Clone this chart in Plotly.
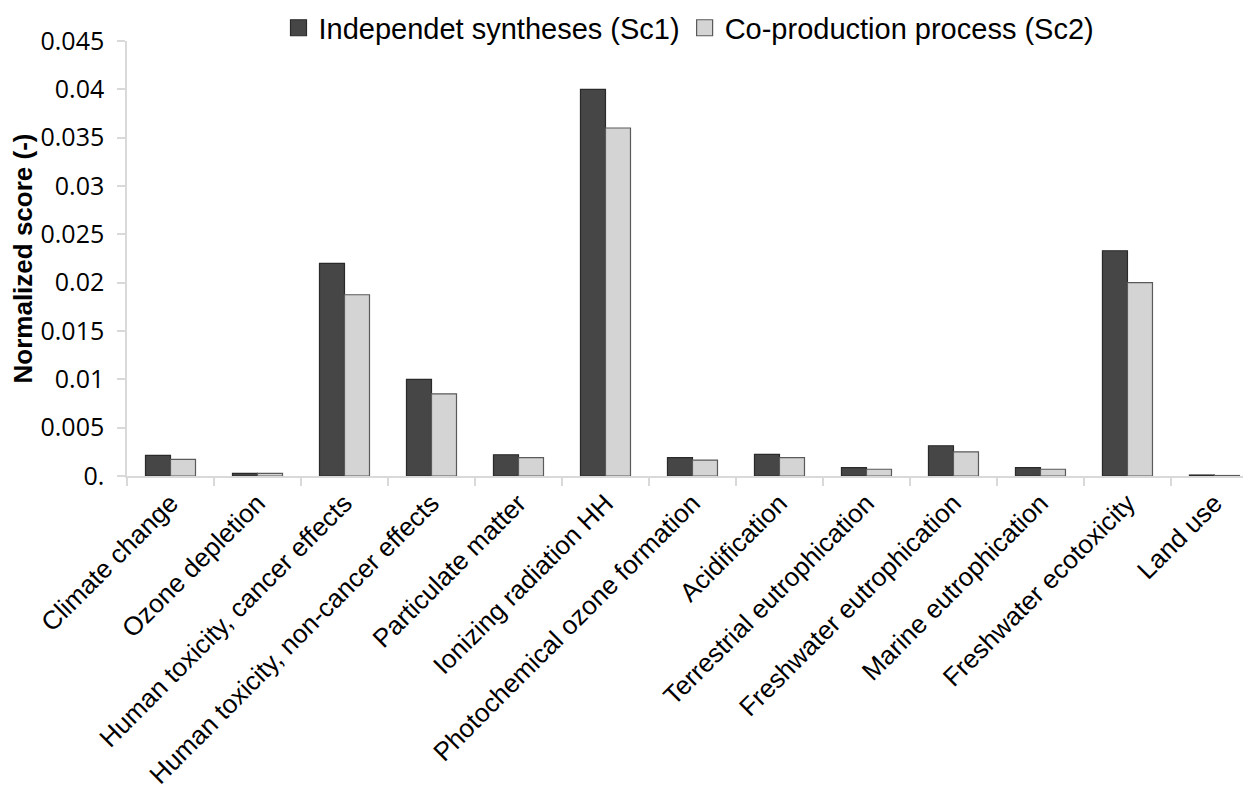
import plotly.graph_objects as go

categories = ["Climate change", "Ozone depletion", "Human toxicity, cancer effects",
              "Human toxicity, non-cancer effects", "Particulate matter", "Ionizing radiation HH",
              "Photochemical ozone formation", "Acidification", "Terrestrial eutrophication",
              "Freshwater eutrophication", "Marine eutrophication", "Freshwater ecotoxicity",
              "Land use"]
sc1 = [0.00214, 0.00028, 0.0220, 0.0100, 0.00220, 0.0400, 0.00190, 0.00224, 0.00086,
       0.00313, 0.00086, 0.0233, 0.00010]
sc2 = [0.00172, 0.00028, 0.01875, 0.0085, 0.00190, 0.0360, 0.00165, 0.00190, 0.00070,
       0.00250, 0.00070, 0.0200, 0.00005]
ytick_vals = [0, 0.005, 0.01, 0.015, 0.02, 0.025, 0.03, 0.035, 0.04, 0.045]
ytick_text = ["0.", "0.005", "0.01", "0.015", "0.02", "0.025", "0.03", "0.035", "0.04", "0.045"]

names = ["Independet syntheses (Sc1)", "Co-production process (Sc2)"]
fills = ["#464646", "#d4d4d4"]
edges = ["#2a2a2a", "#5a5a5a"]

fig = go.Figure()
for vals, name, fc, ec in zip([sc1, sc2], names, fills, edges):
    fig.add_trace(go.Bar(x=categories, y=vals, name=name, showlegend=False,
                         marker=dict(color=fc, line=dict(color=ec, width=1.2))))
# legend proxies (larger square symbols)
for name, fc, ec in zip(names, fills, edges):
    fig.add_trace(go.Scatter(x=[None], y=[None], mode="markers", name=name,
                             marker=dict(symbol="square", size=18, color=fc,
                                         line=dict(color=ec, width=1.2))))

fig.update_layout(
    width=1251, height=795,
    barmode="group", bargap=0.425, bargroupgap=0,
    plot_bgcolor="white", paper_bgcolor="white",
    margin=dict(l=119, r=8, t=33, b=327, autoexpand=False),
    font=dict(family="Liberation Sans, Arial, sans-serif", color="black", size=26),
    legend=dict(orientation="h", x=0.5, xanchor="center", yref="container",
                y=0.975, yanchor="middle",
                font=dict(size=29, family="Liberation Sans, Arial"),
                itemwidth=30, traceorder="normal", tracegroupgap=0),
    showlegend=True,
)
fig.update_xaxes(
    type="category", tickangle=-45, tickfont=dict(size=26),
    range=[-0.5, 12.42], automargin=False,
    showline=True, linecolor="#d9d9d9", linewidth=1.5,
    ticks="outside", tickson="boundaries", ticklen=8, tickcolor="#d9d9d9", tickwidth=1.5,
    showgrid=False,
)
fig.update_yaxes(
    range=[0, 0.045], tickvals=ytick_vals, ticktext=ytick_text, automargin=False,
    tickfont=dict(size=25, family="Open Sans, Liberation Sans, Arial"),
    showline=True, linecolor="#d9d9d9", linewidth=1.5,
    ticks="outside", ticklen=8, tickcolor="#d9d9d9", tickwidth=1.5,
    ticklabelstandoff=8,
    showgrid=False, zeroline=False,
    title=dict(text="<b>Normalized score (-)</b>", font=dict(size=26), standoff=0),
)

fig.write_html("out.html")
